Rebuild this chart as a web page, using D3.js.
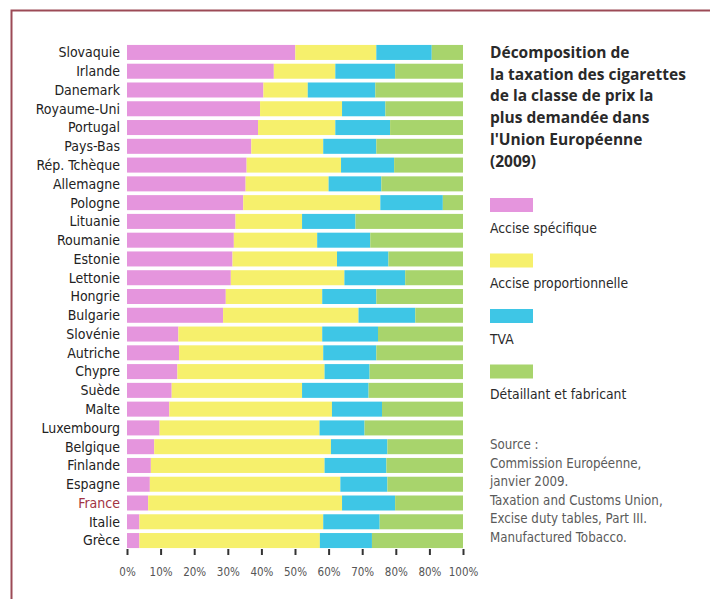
<!DOCTYPE html>
<html lang="fr">
<head>
<meta charset="utf-8">
<script src="https://cdn.jsdelivr.net/npm/d3@7"></script>
<style>
  html, body { margin: 0; padding: 0; background: #ffffff; }
  svg { display: block; }
</style>
</head>
<body>
<svg id="chart" width="710" height="599"></svg>
<script>
// Pays, du plus fort au plus faible poids de l'accise spécifique
const countries = ["Slovaquie", "Irlande", "Danemark", "Royaume-Uni", "Portugal", "Pays-Bas",
  "Rép. Tchèque", "Allemagne", "Pologne", "Lituanie", "Roumanie", "Estonie", "Lettonie",
  "Hongrie", "Bulgarie", "Slovénie", "Autriche", "Chypre", "Suède", "Malte", "Luxembourg",
  "Belgique", "Finlande", "Espagne", "France", "Italie", "Grèce"];

// Part de chaque composante dans le prix de vente (%)
const acciseSpecifique = [50.1, 43.7, 40.6, 39.6, 39.0, 37.0, 35.6, 35.3, 34.6, 32.3, 31.8, 31.4, 30.9,
  29.4, 28.6, 15.3, 15.5, 15.0, 13.3, 12.6, 9.7, 8.1, 7.1, 6.8, 6.3, 3.7, 3.7];
const acciseProportionnelle = [24.1, 18.3, 13.2, 24.4, 23.0, 21.4, 28.1, 24.7, 40.8, 19.8, 24.8, 31.1, 33.8,
  28.7, 40.3, 42.8, 42.9, 43.8, 38.8, 48.4, 47.6, 52.6, 51.7, 56.7, 57.7, 54.7, 53.7];
const tva = [16.5, 17.8, 20.1, 12.9, 16.3, 15.8, 15.8, 15.7, 18.6, 15.9, 15.8, 15.3, 18.1,
  16.1, 16.9, 16.6, 15.8, 13.4, 19.8, 14.9, 13.4, 16.8, 18.4, 14.0, 15.8, 16.8, 15.5];
const detaillantFabricant = [9.3, 20.2, 26.1, 23.1, 21.7, 25.8, 20.5, 24.3, 6.0, 32.0, 27.6, 22.2, 17.2,
  25.8, 14.2, 25.3, 25.8, 27.8, 28.1, 24.1, 29.3, 22.5, 22.8, 22.5, 20.2, 24.8, 27.1];

const seriesNames = ["Accise spécifique", "Accise proportionnelle", "TVA", "Détaillant et fabricant"];
const seriesColors = ["#e595dd", "#f6f06c", "#3ec6e6", "#a8d46c"];

const tickValues = [0, 10, 20, 30, 40, 50, 60, 70, 80, 90, 100];
const tickLabels = ["0%", "10%", "20%", "30%", "40%", "50%", "60%", "70%", "80%", "80%", "100%"];

const titleLines = ["Décomposition de", "la taxation des cigarettes", "de la classe de prix la",
  "plus demandée dans", "l'Union Européenne", "(2009)"];
const sourceLines = ["Source :", "Commission Européenne,", "janvier 2009.",
  "Taxation and Customs Union,", "Excise duty tables, Part III.", "Manufactured Tobacco."];

const highlighted = "France";

// ---- table for d3.stack
const keys = ["spec", "prop", "tva", "det"];
const rows = countries.map((c, i) => ({
  country: c,
  spec: acciseSpecifique[i],
  prop: acciseProportionnelle[i],
  tva: tva[i],
  det: detaillantFabricant[i]
}));

const svg = d3.select("#chart");
const labelFont = "'Liberation Sans Narrow', 'DejaVu Sans Condensed', 'Open Sans', sans-serif";
const textFont = "'Open Sans', 'Noto Sans', sans-serif";

// frame
svg.append("path")
  .attr("d", "M11.5,599 L11.5,10.5 L710,10.5")
  .attr("fill", "none")
  .attr("stroke", "#9c4a56")
  .attr("stroke-width", 2);

const x = d3.scaleLinear().domain([0, 100]).range([127, 463]);
const y = d3.scaleBand().domain(countries).range([44, 549]).paddingInner(0.2).paddingOuter(0.05);

const stack = d3.stack().keys(keys);
const stacked = stack(rows);

svg.append("g").selectAll("g")
  .data(stacked)
  .join("g")
  .attr("fill", (d, i) => seriesColors[i])
  .selectAll("rect")
  .data(d => d)
  .join("rect")
  .attr("x", d => x(d[0]))
  .attr("width", d => x(d[1]) - x(d[0]))
  .attr("y", d => y(d.data.country))
  .attr("height", y.bandwidth());

// country labels
svg.append("g").selectAll("text")
  .data(countries)
  .join("text")
  .attr("x", 120)
  .attr("y", d => y(d) + y.bandwidth() / 2)
  .attr("dy", "0.35em")
  .attr("text-anchor", "end")
  .attr("font-family", labelFont)
  .attr("font-size", 14)
  .attr("fill", d => d === highlighted ? "#a23343" : "#222")
  .text(d => d);

// x axis
const xAxis = d3.axisBottom(x)
  .tickValues(tickValues)
  .tickSize(6)
  .tickPadding(13)
  .tickFormat((d, i) => tickLabels[i]);

const gx = svg.append("g")
  .attr("transform", "translate(0,549)")
  .call(xAxis);
gx.select(".domain").remove();
gx.selectAll(".tick line").attr("stroke", "#333").attr("stroke-width", 2);
gx.selectAll(".tick text")
  .attr("font-family", labelFont)
  .attr("font-size", 11.5)
  .attr("fill", "#555");

// title
svg.append("text")
  .attr("font-family", textFont)
  .attr("font-weight", "bold")
  .attr("font-size", 15.5)
  .attr("fill", "#2a2a2a")
  .selectAll("tspan")
  .data(titleLines)
  .join("tspan")
  .attr("x", 490)
  .attr("y", (d, i) => 58 + i * 21.7)
  .text(d => d);

// legend
const legend = svg.append("g").selectAll("g")
  .data(seriesNames)
  .join("g")
  .attr("transform", (d, i) => `translate(490,${198 + i * 55.5})`);
legend.append("rect")
  .attr("width", 43)
  .attr("height", 14)
  .attr("fill", (d, i) => seriesColors[i]);
legend.append("text")
  .attr("x", 0)
  .attr("y", 30)
  .attr("dy", "0.35em")
  .attr("font-family", labelFont)
  .attr("font-size", 13.8)
  .attr("fill", "#2a2a2a")
  .text(d => d);

// source
svg.append("text")
  .attr("font-family", labelFont)
  .attr("font-size", 13.2)
  .attr("fill", "#5a5a5a")
  .selectAll("tspan")
  .data(sourceLines)
  .join("tspan")
  .attr("x", 490)
  .attr("y", (d, i) => 449 + i * 18.6)
  .text(d => d);
</script>
</body>
</html>
